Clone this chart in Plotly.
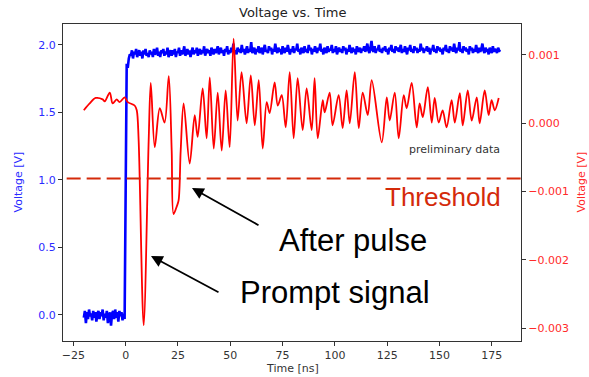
import numpy as np
import plotly.graph_objects as go

# ---------------- data ----------------
blue_t0 = -20.0
blue_dt = 0.5
blue_v = [
    # baseline (-20 .. -0.5)
    -0.02, 0.03, -0.06, 0.02, -0.03, 0.04, -0.01, 0.01, -0.04, 0.03,
    -0.02, 0.02, -0.05, 0.01, 0.03, -0.03, 0.02, -0.01, 0.04, -0.04,
    0.01, -0.02, 0.03, -0.06, -0.01, 0.02, -0.08, 0.01, 0.03, -0.03,
    0.04, -0.02, 0.02, -0.05, 0.03, -0.01, 0.02, -0.04, 0.01, -0.03,
    # rise (0 .. 2)
    0.92, 1.86, 1.83, 1.90, 1.93,
    # plateau (2.5 .. 179)
    1.92, 1.96, 1.90, 1.95, 1.93, 1.97, 1.91, 1.94, 1.96, 1.92, 1.95, 1.90, 1.96, 1.93, 1.97, 1.92, 1.94, 1.91, 1.96, 1.93,
    1.95, 1.91, 1.97, 1.93, 1.94, 1.98, 1.92, 1.95, 1.91, 1.96, 1.94, 1.97, 1.92, 1.95, 1.93, 1.98, 1.91, 1.94, 1.96, 1.92,
    1.96, 1.93, 1.97, 1.91, 1.95, 1.94, 1.98, 1.92, 1.96, 1.93, 1.95, 1.99, 1.92, 1.94, 1.97, 1.93, 1.96, 1.91, 1.95, 1.98,
    1.93, 1.96, 1.94, 1.98, 1.92, 1.95, 1.97, 1.93, 1.96, 1.94, 1.99, 1.92, 1.95, 1.97, 1.94, 1.96, 1.92, 1.98, 1.95, 1.93,
    1.97, 1.94, 1.96, 1.99, 1.93, 1.95, 1.98, 1.94, 1.96, 1.92, 1.97, 1.95, 1.99, 1.93, 1.96, 1.94, 1.98, 1.95, 2.01, 1.94,
    1.96, 1.93, 1.98, 1.95, 1.97, 1.94, 2.00, 1.95, 1.97, 1.93, 1.96, 1.99, 1.94, 1.97, 1.95, 2.02, 1.94, 1.96, 1.98, 1.93,
    1.97, 1.95, 1.99, 1.94, 1.96, 1.98, 1.93, 1.97, 2.00, 1.95, 1.96, 1.94, 1.99, 1.96, 1.98, 1.93, 1.97, 1.95, 2.01, 1.96,
    1.94, 1.98, 1.95, 1.97, 1.93, 1.99, 1.96, 1.94, 1.98, 1.95, 2.00, 1.96, 1.93, 1.97, 1.95, 1.99, 1.94, 1.97, 1.96, 2.01,
    1.95, 1.97, 1.93, 1.98, 1.96, 1.94, 1.99, 1.95, 1.97, 1.94, 2.00, 1.96, 1.98, 1.93, 1.97, 1.95, 1.99, 1.96, 1.94, 1.98,
    1.96, 2.01, 1.95, 1.97, 1.93, 1.98, 1.96, 1.94, 1.99, 1.95, 1.97, 1.96, 2.00, 1.94, 1.97, 1.95, 1.99, 1.93, 1.96, 1.98,
    1.95, 1.97, 1.94, 1.99, 1.96, 1.98, 1.93, 1.97, 1.95, 2.00, 1.96, 1.94, 1.98, 1.95, 1.97, 1.93, 1.99, 1.96, 1.95, 1.98,
    1.94, 1.97, 1.96, 1.99, 1.95, 1.97, 2.01, 1.96, 1.94, 1.98, 2.03, 1.96, 1.95, 1.99, 1.94, 1.97, 1.96, 2.00, 1.95, 1.97,
    1.94, 1.98, 1.96, 1.99, 1.95, 1.97, 1.93, 1.98, 1.96, 2.00, 1.95, 1.97, 1.94, 1.99, 1.96, 1.98, 1.95, 1.97, 2.00, 1.94,
    1.97, 1.95, 1.99, 1.96, 1.93, 1.98, 1.96, 2.00, 1.95, 1.97, 1.94, 1.99, 1.96, 1.98, 1.94, 1.97, 1.95, 2.01, 1.96, 1.98,
    1.94, 1.97, 1.96, 1.99, 1.95, 1.98, 1.93, 1.97, 1.96, 2.00, 1.95, 1.97, 1.94, 1.99, 1.96, 1.98, 1.95, 1.97, 1.93, 1.98,
    1.96, 2.00, 1.95, 1.97, 1.94, 1.99, 1.96, 1.98, 1.95, 2.01, 1.96, 1.94, 1.98, 1.96, 2.02, 1.95, 1.97, 1.94, 1.99, 1.96,
    1.98, 1.95, 1.97, 1.93, 1.99, 1.96, 1.98, 1.94, 1.97, 1.95, 2.00, 1.96, 1.94, 1.98, 1.95, 1.97, 2.01, 1.96, 1.94, 1.98,
    1.95, 1.97, 1.93, 1.98, 1.96, 1.94, 1.99, 1.95, 1.97, 1.96, 1.94, 1.98, 1.96, 1.95,
]
blue_t = [blue_t0 + blue_dt * i for i in range(len(blue_v))]

red_t = [-20.0, -17.2, -14.3, -11.0, -10.0, -7.6, -6.2, -4.3, -2.9, -0.5, 1.0, 4.3, 5.3, 6.2, 8.6, 11.0,
         12.0, 13.9, 16.3, 18.6, 20.6, 22.0, 22.9, 24.4, 25.3, 26.3, 27.7, 30.6, 33.0, 34.4, 36.8, 38.7,
         40.2, 42.1, 44.0, 45.9, 47.8, 49.7, 51.6, 53.5, 55.4, 57.8, 59.8, 61.7, 63.6, 65.5, 67.4, 68.8,
         71.2, 72.7, 74.6, 76.5, 78.4, 80.3, 82.2, 84.6, 86.5, 88.9, 90.3, 91.8, 94.2, 95.1, 97.5, 98.9,
         101.8, 103.7, 105.6, 107.1, 109.5, 111.4, 113.3, 115.7, 117.6, 122.4, 124.8, 126.2, 128.6, 130.5,
         132.9, 134.3, 136.7, 139.1, 140.5, 142.0, 144.4, 146.3, 147.7, 149.6, 151.5, 153.4, 155.8, 157.3,
         159.7, 161.1, 163.5, 165.4, 167.8, 169.2, 171.6, 173.5, 174.9, 176.4, 178.3]
red_mv = [0.19, 0.29, 0.37, 0.35, 0.32, 0.45, 0.29, 0.35, 0.31, 0.38, 0.31, 0.26, 0.19, -0.25, -2.96, -0.25,
          0.59, -0.35, 0.22, 0.01, 0.69, -0.40, -1.33, -1.22, -1.13, -0.40, 0.29, -0.59, 0.12, -0.20, 0.51, -0.22,
          0.67, -0.37, 0.45, -0.40, 0.48, -0.35, 1.24, 0.04, 0.75, 0.00, 0.70, -0.03, 0.63, -0.37, 0.31, 0.15,
          0.60, 0.26, 0.41, -0.06, 0.75, -0.22, 0.66, -0.10, 0.51, -0.10, 0.66, -0.22, 0.34, 0.16, 0.45, -0.03,
          0.41, -0.07, 0.48, 0.00, 0.75, -0.07, 0.45, 0.12, 0.63, -0.28, 0.38, 0.04, 0.45, -0.22,
          0.41, 0.22, 0.59, -0.06, 0.29, 0.09, 0.53, 0.01, 0.37, 0.01, 0.19, -0.06, 0.34, 0.01,
          0.44, -0.03, 0.48, 0.04, 0.38, 0.00, 0.48, 0.12, 0.34, 0.19, 0.37]
red_v = [m * 1e-3 for m in red_mv]

threshold_v = 1.01

x_ticks = [-25, 0, 25, 50, 75, 100, 125, 150, 175]
y1_ticks = [0.0, 0.5, 1.0, 1.5, 2.0]
y1_text = ["0.0", "0.5", "1.0", "1.5", "2.0"]
y2_ticks = [-0.003, -0.002, -0.001, 0.0, 0.001]
y2_text = ["\u22120.003", "\u22120.002", "\u22120.001", "0.000", "0.001"]

# ---------------- figure ----------------
MPL = "DejaVu Sans"
ARIAL = "Liberation Sans, Arial"
frame = "#333333"

fig = go.Figure()
fig.add_trace(go.Scatter(x=blue_t, y=blue_v, mode="lines",
                         line=dict(color="#0000ff", width=2.6, simplify=False),
                         yaxis="y", showlegend=False))
fig.add_trace(go.Scatter(x=red_t, y=red_v, mode="lines",
                         line=dict(color="#ff0000", width=1.8, shape="spline", smoothing=0.9,
                                   simplify=False),
                         yaxis="y2", showlegend=False))

fig.update_layout(
    width=589, height=377,
    margin=dict(l=63, r=68, t=24, b=36),
    paper_bgcolor="white", plot_bgcolor="white",
    font=dict(family=MPL, size=11, color="#222"),
    xaxis=dict(range=[-29.95, 188.95], tickvals=x_ticks, ticks="outside", ticklen=4,
               tickcolor=frame, showline=True, linecolor=frame, linewidth=1, mirror=True,
               showgrid=False, zeroline=False, tickfont=dict(family=MPL, size=11, color="#333")),
    yaxis=dict(range=[-0.193, 2.155], tickvals=y1_ticks, ticktext=y1_text, ticks="outside",
               ticklen=4, tickcolor=frame, showline=True, linecolor=frame, linewidth=1,
               showgrid=False, zeroline=False, tickfont=dict(family=MPL, size=11, color="#2a2aff")),
    yaxis2=dict(range=[-0.00319, 0.001454], tickvals=y2_ticks, ticktext=y2_text, ticks="outside",
                ticklen=4, tickcolor=frame, showline=True, linecolor=frame, linewidth=1,
                overlaying="y", side="right", showgrid=False, zeroline=False,
                tickfont=dict(family=MPL, size=11, color="#ff2a2a")),
)

# threshold line
fig.add_shape(type="line", xref="paper", yref="y", x0=0.008, x1=1.0, y0=threshold_v, y1=threshold_v,
              line=dict(color="#d42a0a", width=2, dash="14px,6px"))

ann = [
    dict(text="Voltage vs. Time", x=0.5, y=(341 - 12) / 317, font=dict(family=MPL, size=13, color="#222")),
    dict(text="Time [ns]", x=0.5, y=(341 - 369) / 317, font=dict(family=MPL, size=11, color="#333")),
    dict(text="Voltage [V]", x=(18 - 63) / 458, y=0.5, textangle=-90, font=dict(family=MPL, size=11, color="#2a2aff")),
    dict(text="Voltage [V]", x=(581 - 63) / 458, y=0.5, textangle=-90, font=dict(family=MPL, size=11, color="#ff2a2a")),
    dict(text="preliminary data", x=(502 - 63) / 458, y=(341 - 149) / 317, xanchor="right",
         font=dict(family=MPL, size=11, color="#333")),
    dict(text="Threshold", x=(503 - 63) / 458, y=(341 - 197) / 317, xanchor="right",
         font=dict(family=ARIAL, size=26, color="#d42a0a")),
    dict(text="After pulse", x=(277 - 63) / 458, y=(341 - 240) / 317, xanchor="left",
         font=dict(family=ARIAL, size=31, color="black")),
    dict(text="Prompt signal", x=(238 - 63) / 458, y=(341 - 292) / 317, xanchor="left",
         font=dict(family=ARIAL, size=31, color="black")),
]
for a in ann:
    a.update(xref="paper", yref="paper", showarrow=False)
    a.setdefault("xanchor", "center")
    a.setdefault("yanchor", "middle")
    fig.add_annotation(**a)

# arrows (head, tail offsets in px)
for hx, hy, tx, ty in [(192, 188, 260, 226), (151, 256, 220, 293)]:
    fig.add_annotation(xref="paper", yref="paper", x=(hx - 63) / 458, y=(341 - hy) / 317,
                       ax=tx - hx, ay=ty - hy, text="", showarrow=True,
                       arrowhead=2, arrowsize=1.3, arrowwidth=1.8, arrowcolor="black", standoff=0)

fig.write_html("out.html")
